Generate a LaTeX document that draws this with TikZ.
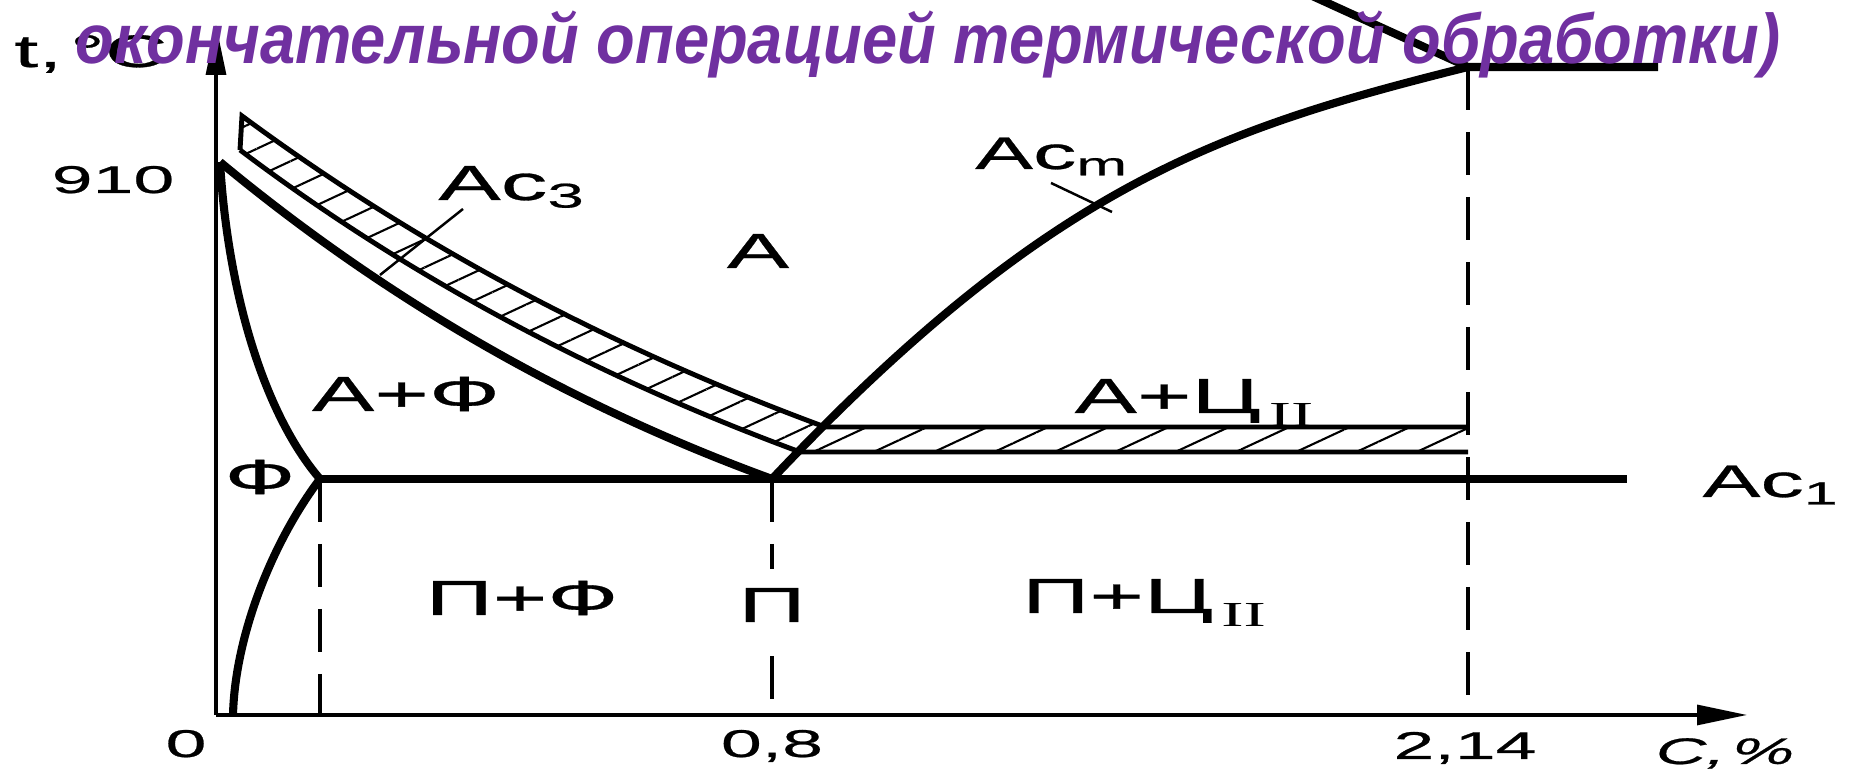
\documentclass[tikz,border=0pt]{standalone}
\usepackage{fontspec}
\setmainfont{Liberation Sans}
\newfontfamily\lblfont[FakeStretch=1.9,FakeBold=0.6]{Liberation Sans}
\newfontfamily\romfont[FakeStretch=1.9]{Liberation Serif}
\newfontfamily\titlefont[FakeStretch=0.9]{Liberation Sans}
\usetikzlibrary{arrows.meta,patterns.meta}
\definecolor{titlepurple}{HTML}{7030A0}
\newcommand{\subII}{\,\raisebox{-1.4mm}{\romfont\fontsize{10}{10}\selectfont II}}

\begin{document}
\begin{tikzpicture}[
    phase/.style={line width=2.3pt, line join=round},
    bandedge/.style={line width=1.4pt, line join=miter},
    hatch/.style={pattern={Lines[angle=25,distance=2.55mm,line width=0.6pt]}},
    axis/.style={line width=0.9pt, -{Triangle[length=5mm,width=2mm]}},
    guide/.style={line width=1.3pt, dash pattern=on 4.3mm off 2.2mm},
    leader/.style={line width=0.7pt},
    region/.style={anchor=base, inner sep=1pt, font=\lblfont\fontsize{14}{16}\selectfont},
    tick/.style={anchor=base, inner sep=1pt, font=\lblfont\fontsize{11}{13}\selectfont}
  ]
    \useasboundingbox (0,0) rectangle (18.49,7.75);
    \fill[white] (0,0) rectangle (18.49,7.75);

    \coordinate (O) at (2.16,0.60);
    \coordinate (ytip) at (2.16,7.50);
    \coordinate (xtip) at (17.47,0.60);
    \coordinate (G) at (2.20,6.13);
    \coordinate (P) at (3.20,2.96);
    \coordinate (Q) at (2.33,0.60);
    \coordinate (S) at (7.72,2.96);
    \coordinate (E) at (14.68,7.08);
    \coordinate (Kend) at (16.27,2.96);
    \coordinate (Fend) at (16.58,7.08);
    \coordinate (Cend) at (13.10,7.80);

    \fill[hatch] (2.42,6.59) .. controls (4.30,5.20) and (6.25,4.22) .. (8.25,3.48) -- (14.68,3.48) -- (14.68,3.23) -- (8.00,3.23) .. controls (6.05,3.95) and (4.15,4.93) .. (2.40,6.25) -- cycle;
    \draw[bandedge] (2.40,6.25) -- (2.42,6.59) .. controls (4.30,5.20) and (6.25,4.22) .. (8.25,3.48) -- (14.68,3.48);
    \draw[bandedge] (2.40,6.25) .. controls (4.15,4.93) and (6.05,3.95) .. (8.00,3.23) -- (14.68,3.23);

    \draw[phase] (G) .. controls (3.95,4.68) and (5.80,3.66) .. (S);
    \draw[phase] (G) .. controls (2.28,4.80) and (2.65,3.60) .. (P);
    \draw[phase] (P) .. controls (2.73,2.34) and (2.35,1.40) .. (Q);
    \draw[phase] (P) -- (Kend);
    \draw[phase] (S) .. controls (10.50,5.90) and (12.18,6.455) .. (E);
    \draw[phase] (Cend) -- (E) -- (Fend);

    \node[region] (lblP) at (7.72,1.53) {П};
    \draw[guide] (P) -- (P |- O);
    \draw[guide, shorten >=1.5mm] (S) -- (lblP);
    \draw[guide, shorten <=3mm] (lblP) -- (S |- O);
    \draw[guide] (E) -- (E |- O);

    \draw[axis] (O) -- (ytip);
    \draw[axis] (O) -- (xtip);

    \node[region] (lblA) at (7.58,5.07) {А};
    \node[region] (lblAF) at (4.06,3.64) {А+Ф};
    \node[region] (lblF) at (2.60,2.81) {Ф};
    \node[region] (lblPF) at (5.22,1.60) {П+Ф};
    \node[region] (lblPC) at (11.44,1.62) {П+Ц\subII};
    \node[region] (lblAC) at (11.94,3.62) {А+Ц\subII};

    \node[region] (ac3) at (5.12,5.75) {Ac\textsubscript{3}};
    \node[region, font=\lblfont\fontsize{13}{15}\selectfont] (acm) at (10.52,6.06) {Ac\textsubscript{m}};
    \node[region, font=\lblfont\fontsize{13}{15}\selectfont] (ac1) at (17.71,2.78) {Ac\textsubscript{1}};
    \coordinate (ac3a) at (4.63,5.66);
    \coordinate (ac3b) at (3.80,5.00);
    \coordinate (acma) at (10.51,5.92);
    \coordinate (acmb) at (11.12,5.63);
    \draw[leader] (ac3a) -- (ac3b);
    \draw[leader] (acma) -- (acmb);

    \node[tick] (n910) at (1.13,5.82) {910};
    \node[tick] (n0) at (1.86,0.18) {0};
    \node[tick] (n08) at (7.72,0.18) {0,8};
    \node[tick] (n214) at (14.65,0.16) {2,14};
    \node[tick, font=\lblfont\itshape\fontsize{10.5}{13}\selectfont] (ncarb) at (17.25,0.11) {C,\,\%};
    \node[tick, anchor=base west, font=\lblfont\fontsize{13}{15}\selectfont] (ntemp) at (0.10,7.08) {t,\,°C};

    \node[anchor=base, inner sep=0pt, text=titlepurple, font=\titlefont\fontsize{20}{24}\selectfont\bfseries\itshape] (title) at (9.28,7.11) {окончательной операцией термической обработки)};
\end{tikzpicture}
\end{document}
